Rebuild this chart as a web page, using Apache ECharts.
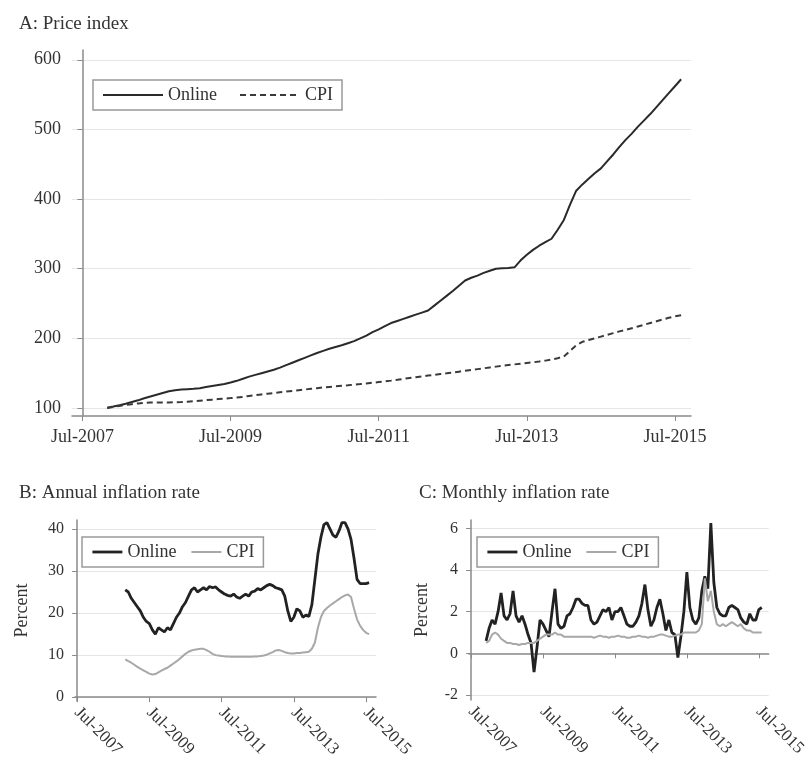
<!DOCTYPE html>
<html>
<head>
    <meta charset="utf-8">
    <script src="https://cdn.jsdelivr.net/npm/echarts@6.0.0/dist/echarts.min.js"></script>
    <style>
        html, body { margin: 0; padding: 0; background: #fff; }
    </style>
</head>
<body>
    <div id="main" style="width: 809px; height: 770px;"></div>

<script type="text/javascript">
    // x values are months counted from Jul-2007
    const tickMonths = [0, 24, 48, 72, 96]

    // A: price index, Nov-2007 = 100
    const startA = 4
    const onlineIndex = [100.5, 102, 104, 106, 108.5, 111, 114, 116.5, 119, 121.5, 124, 125.5,
        126.5, 127, 127.5, 128.5, 130, 131.5, 133, 134.5, 136.5, 139, 142, 145,
        147.5, 150, 152.5, 155, 158, 161.5, 165, 168.5, 172, 175.5, 179, 182,
        185, 187.5, 190, 193, 196, 200, 204, 209, 213, 217.5, 222, 225,
        228, 231, 234, 237, 240, 247, 254, 261, 268, 275.5, 283, 287,
        290, 294, 297, 300, 300.5, 301, 302, 312, 320, 327, 333, 338,
        343, 356, 370, 392, 412, 421, 429, 437, 444, 454, 464, 475,
        485, 494, 504, 513, 522, 532, 542, 552, 562, 572]
    const cpiIndex = [100, 101.5, 103, 104.5, 105.5, 106.5, 107.5, 107.8, 108, 108, 108, 108.2,
        108.5, 109, 109.8, 110.5, 111.2, 112, 112.8, 113.5, 114.2, 115, 116, 117.2,
        118.3, 119.5, 120.5, 121.5, 122.5, 123.5, 124.5, 125.5, 126.5, 127.5, 128.5, 129.5,
        130.3, 131, 131.8, 132.6, 133.5, 134.3, 135.2, 136.2, 137.2, 138.2, 139.3, 140.5,
        141.8, 143, 144.2, 145.3, 146.5, 147.6, 148.7, 149.8, 151, 152.2, 153.4, 154.6,
        155.8, 157, 158.2, 159.4, 160.5, 161.6, 162.6, 163.6, 164.6, 165.6, 166.7, 168,
        169.5, 171.5, 174, 182, 190, 195, 197.5, 200, 202.5, 205, 207.5, 210,
        212, 214.5, 217, 219.5, 222, 224.5, 227, 229.5, 231.5, 233]

    // B: annual inflation, percent
    const startB = 16
    const onlineAnnual = [25.5, 25, 23.5, 22.5, 21.5, 20.5, 19, 18, 17.5, 16, 15, 16.5,
        16, 15.5, 16.5, 16, 17.5, 19, 20, 21.5, 22.5, 24, 25.5, 26,
        25, 25.5, 26, 25.5, 26.3, 26, 26.2, 25.5, 25, 24.5, 24.2, 24,
        24.5, 23.8, 23.5, 24, 24.5, 24, 25, 25.2, 25.8, 25.5, 26, 26.5,
        26.8, 26.5, 26, 25.8, 25.5, 24, 20.5, 18, 19, 21, 20.5, 19,
        19.5, 19.2, 22, 28, 34, 38, 41, 41.5, 40, 38.5, 38, 39.5,
        41.5, 41.5, 40, 37.5, 33, 28, 27, 27, 27, 27.2]
    const cpiAnnual = [9, 8.6, 8.2, 7.7, 7.2, 6.8, 6.4, 6, 5.6, 5.4, 5.5, 5.9,
        6.3, 6.7, 7, 7.5, 8, 8.5, 9.1, 9.7, 10.3, 10.8, 11.1, 11.3,
        11.4, 11.5, 11.5, 11.2, 10.8, 10.3, 10, 9.9, 9.8, 9.7, 9.7, 9.6,
        9.6, 9.6, 9.6, 9.6, 9.6, 9.6, 9.6, 9.7, 9.7, 9.8, 9.9, 10.1,
        10.4, 10.7, 11.1, 11.2, 11, 10.7, 10.5, 10.4, 10.4, 10.5, 10.5, 10.6,
        10.7, 10.8, 11.5, 13, 16.5, 19, 20.5, 21.2, 21.8, 22.3, 22.8, 23.3,
        23.8, 24.2, 24.4, 23.8, 21, 18.5, 17, 16, 15.3, 15]

    // C: monthly inflation, percent
    const startC = 5
    const onlineMonthly = [0.6, 1.2, 1.6, 1.4, 2.0, 2.9, 1.8, 1.6, 1.9, 3.0, 1.8, 1.5,
        1.8, 1.4, 0.9, 0.5, -0.9, 0.3, 1.6, 1.4, 1.1, 0.8, 2.0, 3.1,
        1.4, 1.2, 1.3, 1.8, 1.9, 2.2, 2.6, 2.6, 2.4, 2.3, 2.3, 1.6,
        1.4, 1.5, 1.8, 2.1, 2.0, 2.2, 1.6, 2.0, 2.0, 2.2, 1.8, 1.4,
        1.3, 1.3, 1.5, 1.8, 2.4, 3.3, 2.1, 1.3, 1.6, 2.2, 2.6, 1.9,
        1.1, 1.6, 1.0, 0.9, -0.2, 0.8, 2.0, 3.9, 2.2, 1.6, 1.4, 1.7,
        3.0, 3.7, 3.1, 6.25, 3.4, 2.2, 1.9, 1.8, 1.8, 2.2, 2.3, 2.2,
        2.1, 1.7, 1.5, 1.4, 1.9, 1.6, 1.6, 2.1, 2.2]
    const cpiMonthly = [0.5, 0.6, 0.9, 1.0, 0.9, 0.7, 0.6, 0.5, 0.5, 0.45, 0.45, 0.4,
        0.45, 0.45, 0.5, 0.5, 0.5, 0.6, 0.7, 0.8, 0.9, 0.9, 0.9, 1.0,
        0.9, 0.9, 0.8, 0.8, 0.8, 0.8, 0.8, 0.8, 0.8, 0.8, 0.8, 0.8,
        0.75, 0.8, 0.85, 0.8, 0.8, 0.75, 0.8, 0.8, 0.85, 0.8, 0.8, 0.75,
        0.75, 0.8, 0.8, 0.85, 0.8, 0.8, 0.75, 0.8, 0.8, 0.85, 0.9, 0.9,
        0.85, 0.8, 0.8, 0.85, 0.9, 0.9, 1.0, 1.0, 1.0, 1.0, 1.0, 1.1,
        1.4, 3.6, 2.5, 3.0, 2.0, 1.4, 1.3, 1.4, 1.3, 1.4, 1.5, 1.4,
        1.3, 1.4, 1.2, 1.1, 1.1, 1.0, 1.0, 1.0, 1.0]

    const font = 'Liberation Serif'
    const axisGray = '#8a8a8a'

    function pairs(start, vals) {
        return vals.map((v, i) => [start + i, v])
    }

    function xAxisFor(gridIndex, min, max, rotate, size, margin) {
        return {
            type: 'value',
            gridIndex: gridIndex,
            min: min,
            max: max,
            axisLine: { show: true, lineStyle: { color: axisGray, width: 1.5 } },
            axisTick: { show: true, length: 5, customValues: tickMonths, lineStyle: { color: axisGray } },
            splitLine: { show: false },
            axisLabel: {
                customValues: tickMonths,
                formatter: m => 'Jul-' + (2007 + m / 12),
                rotate: rotate,
                margin: margin,
                color: '#333',
                fontFamily: font,
                fontSize: size
            }
        }
    }

    function yAxisFor(gridIndex, min, max, ticks, name, gap, size) {
        return {
            type: 'value',
            gridIndex: gridIndex,
            min: min,
            max: max,
            name: name,
            nameLocation: 'middle',
            nameGap: gap,
            nameTextStyle: { fontFamily: font, fontSize: 18, color: '#333' },
            axisLine: { show: true, lineStyle: { color: axisGray, width: 1.5 } },
            axisTick: { show: true, length: 5, customValues: ticks, lineStyle: { color: axisGray } },
            splitLine: { show: true, lineStyle: { color: '#e6e6e6', width: 1 } },
            axisLabel: { customValues: ticks, margin: 11, color: '#333', fontFamily: font, fontSize: size }
        }
    }

    function legendFor(names, left, top, itemWidth, gap) {
        return {
            data: names,
            left: left,
            top: top,
            orient: 'horizontal',
            itemWidth: itemWidth,
            itemHeight: 10,
            itemGap: gap,
            padding: [6, 9],
            borderColor: '#999',
            borderWidth: 1.5,
            selectedMode: false,
            formatter: n => n.split(' ')[0],
            itemStyle: { opacity: 0 },
            lineStyle: { width: 'inherit' },
            textStyle: { fontFamily: font, fontSize: 18, color: '#333' }
        }
    }

    function lineSeries(name, gridIndex, data, color, width, dash) {
        return {
            name: name,
            type: 'line',
            xAxisIndex: gridIndex,
            yAxisIndex: gridIndex,
            data: data,
            symbol: 'none',
            animation: false,
            lineStyle: { color: color, width: width, type: dash ? [6, 4] : 'solid' },
            itemStyle: { color: color }
        }
    }

    let myChart = echarts.init(document.getElementById('main'))

    let option = {
        backgroundColor: '#fff',
        title: [
            { text: 'A: Price index', left: 14, top: 10 },
            { text: 'B: Annual inflation rate', left: 14, top: 479 },
            { text: 'C: Monthly inflation rate', left: 414, top: 479 }
        ].map(t => Object.assign(t, {
            textStyle: { fontFamily: font, fontSize: 19, fontWeight: 'normal', color: '#333' }
        })),
        grid: [
            { left: 72, right: 118, top: 50, bottom: 354 },
            { left: 75, right: 433, top: 520, bottom: 69 },
            { left: 469, right: 39, top: 520, bottom: 70 }
        ],
        xAxis: [
            xAxisFor(0, -1.7, 98.6, 0, 18, 12),
            xAxisFor(1, -0.7, 99.3, -45, 17, 9),
            xAxisFor(2, -0.7, 99.3, -45, 17, 9)
        ],
        yAxis: [
            yAxisFor(0, 88.5, 614, [100, 200, 300, 400, 500, 600], '', 0, 18),
            yAxisFor(1, -0.9, 42.1, [0, 10, 20, 30, 40], 'Percent', 44, 16),
            yAxisFor(2, -2.24, 6.4, [-2, 0, 2, 4, 6], 'Percent', 38, 16)
        ],
        legend: [
            legendFor(['Online A', 'CPI A'], 93, 80, 60, 22),
            legendFor(['Online B', 'CPI B'], 82, 537, 30, 14),
            legendFor(['Online C', 'CPI C'], 477, 537, 30, 14)
        ],
        series: [
            lineSeries('Online A', 0, pairs(startA, onlineIndex), '#2a2a2a', 2, false),
            lineSeries('CPI A', 0, pairs(startA, cpiIndex), '#3a3a3a', 2, true),
            lineSeries('Online B', 1, pairs(startB, onlineAnnual), '#222', 2.8, false),
            lineSeries('CPI B', 1, pairs(startB, cpiAnnual), '#a8a8a8', 2, false),
            lineSeries('Online C', 2, pairs(startC, onlineMonthly), '#222', 2.8, false),
            lineSeries('CPI C', 2, pairs(startC, cpiMonthly), '#a8a8a8', 2, false)
        ]
    }
    myChart.setOption(option)
</script>
</body>
</html>
